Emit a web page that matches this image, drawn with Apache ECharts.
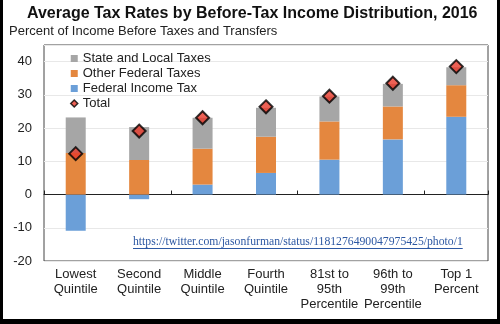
<!DOCTYPE html>
<html><head><meta charset="utf-8">
<script src="https://cdn.jsdelivr.net/npm/echarts@6/dist/echarts.min.js"></script>
<style>html,body{margin:0;padding:0;background:#fff}#c{width:500px;height:324px}</style>
</head><body><div id="c"></div>
<script>
var categories = ["Lowest\nQuintile","Second\nQuintile","Middle\nQuintile","Fourth\nQuintile","81st to\n95th\nPercentile","96th to\n99th\nPercentile","Top 1\nPercent"];
var federalIncomeTax = [-10.9, -1.4, 3.0, 6.5, 10.5, 16.6, 23.4];
var otherFederalTaxes = [12.5, 10.4, 10.8, 10.9, 11.5, 9.9, 9.5];
var stateLocalTaxes = [10.7, 9.9, 9.3, 8.7, 7.5, 6.8, 5.4];
var total = [12.3, 19.1, 23.1, 26.4, 29.6, 33.5, 38.5];
var yTicks = [-20, -10, 0, 10, 20, 30, 40];
var titleText = "Average Tax Rates by Before-Tax Income Distribution, 2016";
var subtitleText = "Percent of Income Before Taxes and Transfers";
var sourceText = "https://twitter.com/jasonfurman/status/1181276490047975425/photo/1";

var chart = echarts.init(document.getElementById('c'), null, {renderer:'canvas'});
var F = "'Liberation Sans', Arial, sans-serif";
var srcFont = "11.7px 'Liberation Serif'";
var cv = document.createElement('canvas').getContext('2d');
cv.font = srcFont;
var srcW = cv.measureText(sourceText).width;
var srcX = 133, srcY = 236;

var option = {
  backgroundColor: '#fff',
  animation: false,
  textStyle: {fontFamily: F},
  title: [
    {text: titleText, left: 27, top: 6, padding: 0,
     textStyle: {fontFamily: F, fontSize: 16, fontWeight: 'bold', color: '#111'}},
    {text: subtitleText, left: 9, top: 25, padding: 0,
     textStyle: {fontFamily: F, fontSize: 13, fontWeight: 'normal', color: '#222'}}
  ],
  legend: {
    orient: 'vertical', left: 70, top: 52, padding: 0,
    itemWidth: 7, itemHeight: 7, itemGap: 2,
    textStyle: {fontFamily: F, fontSize: 13, color: '#222', lineHeight: 13},
    data: [
      {name: 'State and Local Taxes', icon: 'rect'},
      {name: 'Other Federal Taxes', icon: 'rect'},
      {name: 'Federal Income Tax', icon: 'rect'},
      {name: 'Total', icon: 'diamond', itemStyle: {borderWidth: 1.5, borderColor: '#000'}}
    ]
  },
  grid: {left: 44, right: 12, top: 45, bottom: 63, show: true, borderColor: '#444', borderWidth: 1},
  xAxis: [
    {type: 'category', data: categories, position: 'bottom',
     axisLine: {onZero: true, lineStyle: {color: '#222', width: 1}},
     axisTick: {show: true, inside: true, length: 4, lineStyle: {color: '#222'}},
     axisLabel: {show: false}},
    {type: 'category', data: categories, position: 'bottom',
     axisLine: {show: false, onZero: false}, axisTick: {show: false},
     axisLabel: {fontFamily: F, fontSize: 13, color: '#222', lineHeight: 15, margin: 6, interval: 0}}
  ],
  yAxis: {
    type: 'value', min: yTicks[0], max: 45, interval: 10,
    axisLine: {show: false}, axisTick: {show: false},
    axisLabel: {fontFamily: F, fontSize: 13, color: '#222', margin: 12, showMaxLabel: false,
      formatter: function(v){ return yTicks.indexOf(v) >= 0 ? String(v) : ''; }},
    splitLine: {lineStyle: {color: '#e8e8e8'}}
  },
  series: [
    {name: 'Federal Income Tax', type: 'bar', stack: 's', data: federalIncomeTax, barWidth: 20,
     itemStyle: {color: '#6b9fd8'}},
    {name: 'Other Federal Taxes', type: 'bar', stack: 's', data: otherFederalTaxes, barWidth: 20,
     itemStyle: {color: '#e4873f'}},
    {name: 'State and Local Taxes', type: 'bar', stack: 's', data: stateLocalTaxes, barWidth: 20,
     itemStyle: {color: '#a6a6a6'}},
    {name: 'Total', type: 'scatter', data: total, symbol: 'diamond', symbolSize: 13, z: 5,
     itemStyle: {color: '#e8392b', borderColor: '#000', borderWidth: 2}}
  ],
  graphic: [
    {type: 'text', left: srcX, top: srcY, z: 10,
     style: {text: sourceText, font: srcFont, fill: '#2d58a3'}},
    {type: 'line', z: 10, shape: {x1: srcX, y1: srcY + 12.5, x2: srcX + srcW, y2: srcY + 12.5},
     style: {stroke: '#2d58a3', lineWidth: 1}},
    {type: 'rect', z: 20, shape: {x: 0, y: 0, width: 3, height: 324}, style: {fill: '#000'}},
    {type: 'rect', z: 20, shape: {x: 497, y: 0, width: 3, height: 324}, style: {fill: '#000'}},
    {type: 'rect', z: 20, shape: {x: 0, y: 319, width: 500, height: 5}, style: {fill: '#000'}}
  ]
};
chart.setOption(option);
</script></body></html>
